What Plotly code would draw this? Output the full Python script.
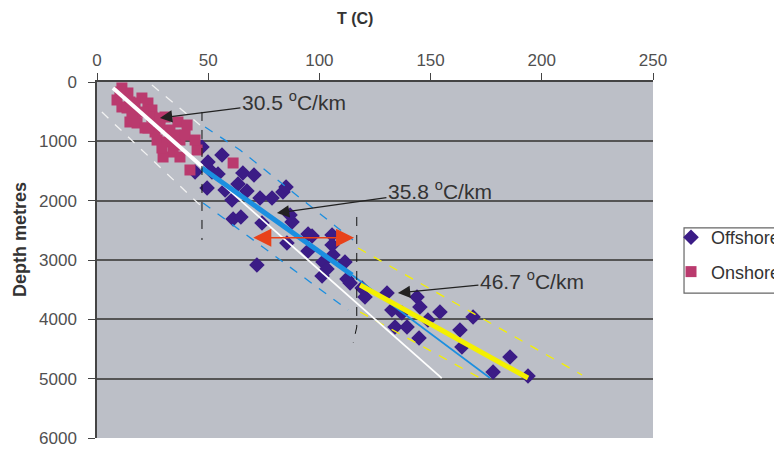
import plotly.graph_objects as go

# ---------------- data ----------------
onshore_T = [11.2, 13.9, 9.0, 11.2, 14.8, 20.2, 22.9, 24.7, 13.5, 15.7, 14.8, 18.0, 24.7, 30.6, 36.4,
             40.5, 26.1, 27.0, 31.5, 37.3, 34.2, 29.7, 37.3, 45.0, 41.8, 61.2, 28.3, 21.6, 17.1, 35.1,
             10.3, 17.1, 20.7, 28.3, 32.8, 22.9, 29.2, 39.6, 35.1, 44.1]
onshore_D = [101, 185, 303, 421, 337, 270, 354, 472, 438, 590, 674, 691, 590, 590, 674,
             725, 843, 978, 1011, 978, 1180, 1264, 1264, 1146, 1483, 1365, 725, 775, 522, 893,
             169, 354, 506, 607, 809, 775, 1112, 893, 1062, 978]

offshore_T = [47.2, 56.2, 49.9, 44.1, 51.7, 54.4, 49.5, 57.6, 65.6, 70.6, 63.4, 67.4, 73.3, 78.7, 83.6,
              85.0, 60.7, 61.2, 64.7, 74.2, 86.8, 87.7, 85.4, 94.9, 96.7, 105.7, 105.7, 94.9, 106.1,
              101.6, 111.5, 71.9, 103.4, 101.2, 112.4, 113.8, 119.2, 120.5, 130.4, 132.6, 137.1,
              143.9, 145.2, 148.8, 154.2, 169.1, 134.0, 139.4, 144.8, 163.2, 164.1, 185.7, 178.1, 193.8]
offshore_D = [1096, 1230, 1348, 1517, 1517, 1551, 1787, 1820, 1534, 1568, 1719, 1837, 1955, 1955, 1854,
              1770, 1989, 2309, 2275, 2377, 2242, 2360, 2714, 2562, 2596, 2579, 2747, 2848, 2916,
              3034, 3034, 3084, 3152, 3270, 3320, 3388, 3472, 3624, 3556, 3843, 3893,
              3624, 3792, 4011, 3877, 3961, 4129, 4129, 4315, 4180, 4467, 4635, 4888, 4955]

# gradient lines
white_fit_T = [7.2, 47.2]
white_fit_D = [100, 1423]
white_ext_T = [47.2, 155.0]
white_ext_D = [1423, 4990]
white_env_up_T = [24.7, 46.3]
white_env_up_D = [51, 725]
white_env_lo_T = [2.2, 46.3]
white_env_lo_D = [506, 2073]

blue_fit_T = [47.2, 114.7]
blue_fit_D = [1450, 3253]
blue_ext_T = [114.7, 176.7]
blue_ext_D = [3253, 4989]
blue_env_up_T = [48.6, 64.3, 86.8, 115.1]
blue_env_up_D = [758, 1146, 1820, 2663]
blue_env_lo_T = [47.7, 112.9]
blue_env_lo_D = [2039, 3843]

yellow_fit_T = [118.3, 193.8]
yellow_fit_D = [3422, 4989]
yellow_env_up_T = [117.4, 218.1]
yellow_env_up_D = [2798, 4938]
yellow_env_lo_T = [118.3, 172.2]
yellow_env_lo_D = [3877, 4989]

div1_T = [47.2, 47.2]
div1_D = [505, 2663]
div2_T = [116.8, 116.8, 115.2]
div2_D = [2275, 4129, 4399]

shift_T = [69.6, 115.6]
shift_D = [2624, 2624]

gradient_labels = ["30.5 <sup>o</sup>C/km", "35.8 <sup>o</sup>C/km", "46.7 <sup>o</sup>C/km"]
gradient_tip_T = [28.3, 80.9, 135.3]
gradient_tip_D = [607, 2208, 3556]
label_offset_x = [134, 163, 134]
label_offset_y = [-17, -23, -13]

x_ticks = [0, 50, 100, 150, 200, 250]
y_ticks = [0, 1000, 2000, 3000, 4000, 5000, 6000]

# ---------------- figure ----------------
BLUE = "#1B8FE0"
YELLOW = "#F4F000"
FONT = "Arial, Liberation Sans, sans-serif"
fig = go.Figure()

fig.add_trace(go.Scatter(x=offshore_T, y=offshore_D, mode="markers", name="Offshore",
                         legendgroup="a",
                         marker=dict(symbol="diamond", size=12, color="#3B1C86")))
fig.add_trace(go.Scatter(x=onshore_T, y=onshore_D, mode="markers", name="Onshore",
                         legendgroup="b",
                         marker=dict(symbol="square", size=11, color="#BA3A6E")))

def line(x, y, color, width, dash="solid"):
    fig.add_trace(go.Scatter(x=x, y=y, mode="lines", showlegend=False, hoverinfo="skip",
                             line=dict(color=color, width=width, dash=dash)))

line(white_env_up_T, white_env_up_D, "#F2F2F2", 1.3, "dash")
line(white_env_lo_T, white_env_lo_D, "#F2F2F2", 1.3, "dash")
line(blue_env_up_T, blue_env_up_D, BLUE, 1.3, "dash")
line(blue_env_lo_T, blue_env_lo_D, BLUE, 1.3, "dash")
line(yellow_env_up_T, yellow_env_up_D, YELLOW, 1.3, "dash")
line(yellow_env_lo_T, yellow_env_lo_D, YELLOW, 1.3, "dash")
line(white_ext_T, white_ext_D, "#FFFFFF", 1.8)
line(white_fit_T, white_fit_D, "#FFFFFF", 4)
line(blue_ext_T, blue_ext_D, BLUE, 1.6)
line(blue_fit_T, blue_fit_D, BLUE, 5)
line(yellow_fit_T, yellow_fit_D, YELLOW, 5)
line(div1_T, div1_D, "#111111", 1, "dash")
line(div2_T, div2_D, "#111111", 1, "dash")

annotations = []
for lab, tx, ty, ox, oy in zip(gradient_labels, gradient_tip_T, gradient_tip_D,
                               label_offset_x, label_offset_y):
    annotations.append(dict(x=tx, y=ty, xref="x", yref="y", text=lab, showarrow=True,
                            ax=ox, ay=oy, arrowhead=2, arrowsize=1.9, arrowwidth=1.3,
                            arrowcolor="#222222", standoff=0,
                            font=dict(family=FONT, size=21, color="#333333")))
# orange double arrow
annotations.append(dict(x=shift_T[1], y=shift_D[1], ax=shift_T[0], ay=shift_D[0],
                        xref="x", yref="y", axref="x", ayref="y", text="", showarrow=True,
                        arrowhead=2, arrowside="end+start", arrowsize=2.4, arrowwidth=1.5,
                        arrowcolor="#E8421A"))
# axis titles
annotations.append(dict(x=0.464, y=1, xref="paper", yref="paper", yshift=64, yanchor="middle",
                        text="<b>T (C)</b>", showarrow=False,
                        font=dict(family=FONT, size=16, color="#333333")))
annotations.append(dict(x=0, y=0.556, xref="paper", yref="paper", xshift=-77, xanchor="center",
                        yanchor="middle", textangle=-90, text="<b>Depth metres</b>", showarrow=False,
                        font=dict(family=FONT, size=18, color="#333333")))

# legend frame (the page body has an 8px margin, so the figure is 774x441)
legend_frame = dict(type="rect", xref="paper", yref="paper", x0=1.0558, x1=1.3, y0=0.407, y1=0.590,
                    line=dict(color="#666666", width=1.2), fillcolor="white", layer="above")

fig.update_layout(
    width=774, height=441,
    margin=dict(l=89, r=129, t=74, b=11, autoexpand=False),
    paper_bgcolor="white",
    plot_bgcolor="#BCBFC7",
    font=dict(family=FONT, color="#505050"),
    annotations=annotations,
    shapes=[legend_frame],
    legend=dict(xref="container", yref="container", x=0.8566, y=0.5215,
                xanchor="left", yanchor="top", borderwidth=0, bgcolor="rgba(0,0,0,0)",
                font=dict(size=18, color="#333333"), tracegroupgap=8, itemwidth=30),
    showlegend=True,
)
fig.update_xaxes(side="top", range=[0, 250], tickvals=x_ticks, showgrid=False, zeroline=False,
                 showline=True, linecolor="#444444", linewidth=1.5, ticks="outside", ticklen=7,
                 tickcolor="#444444", tickfont=dict(size=17, color="#505050"))
fig.update_yaxes(range=[6000, 0], tickvals=y_ticks, showgrid=True, gridcolor="#555555", gridwidth=1.6,
                 zeroline=False, showline=True, linecolor="#444444", linewidth=1.5, ticks="outside",
                 ticklen=7, tickcolor="#444444", tickfont=dict(size=17, color="#505050"),
                 ticklabelstandoff=8)

fig.write_html("out.html")
